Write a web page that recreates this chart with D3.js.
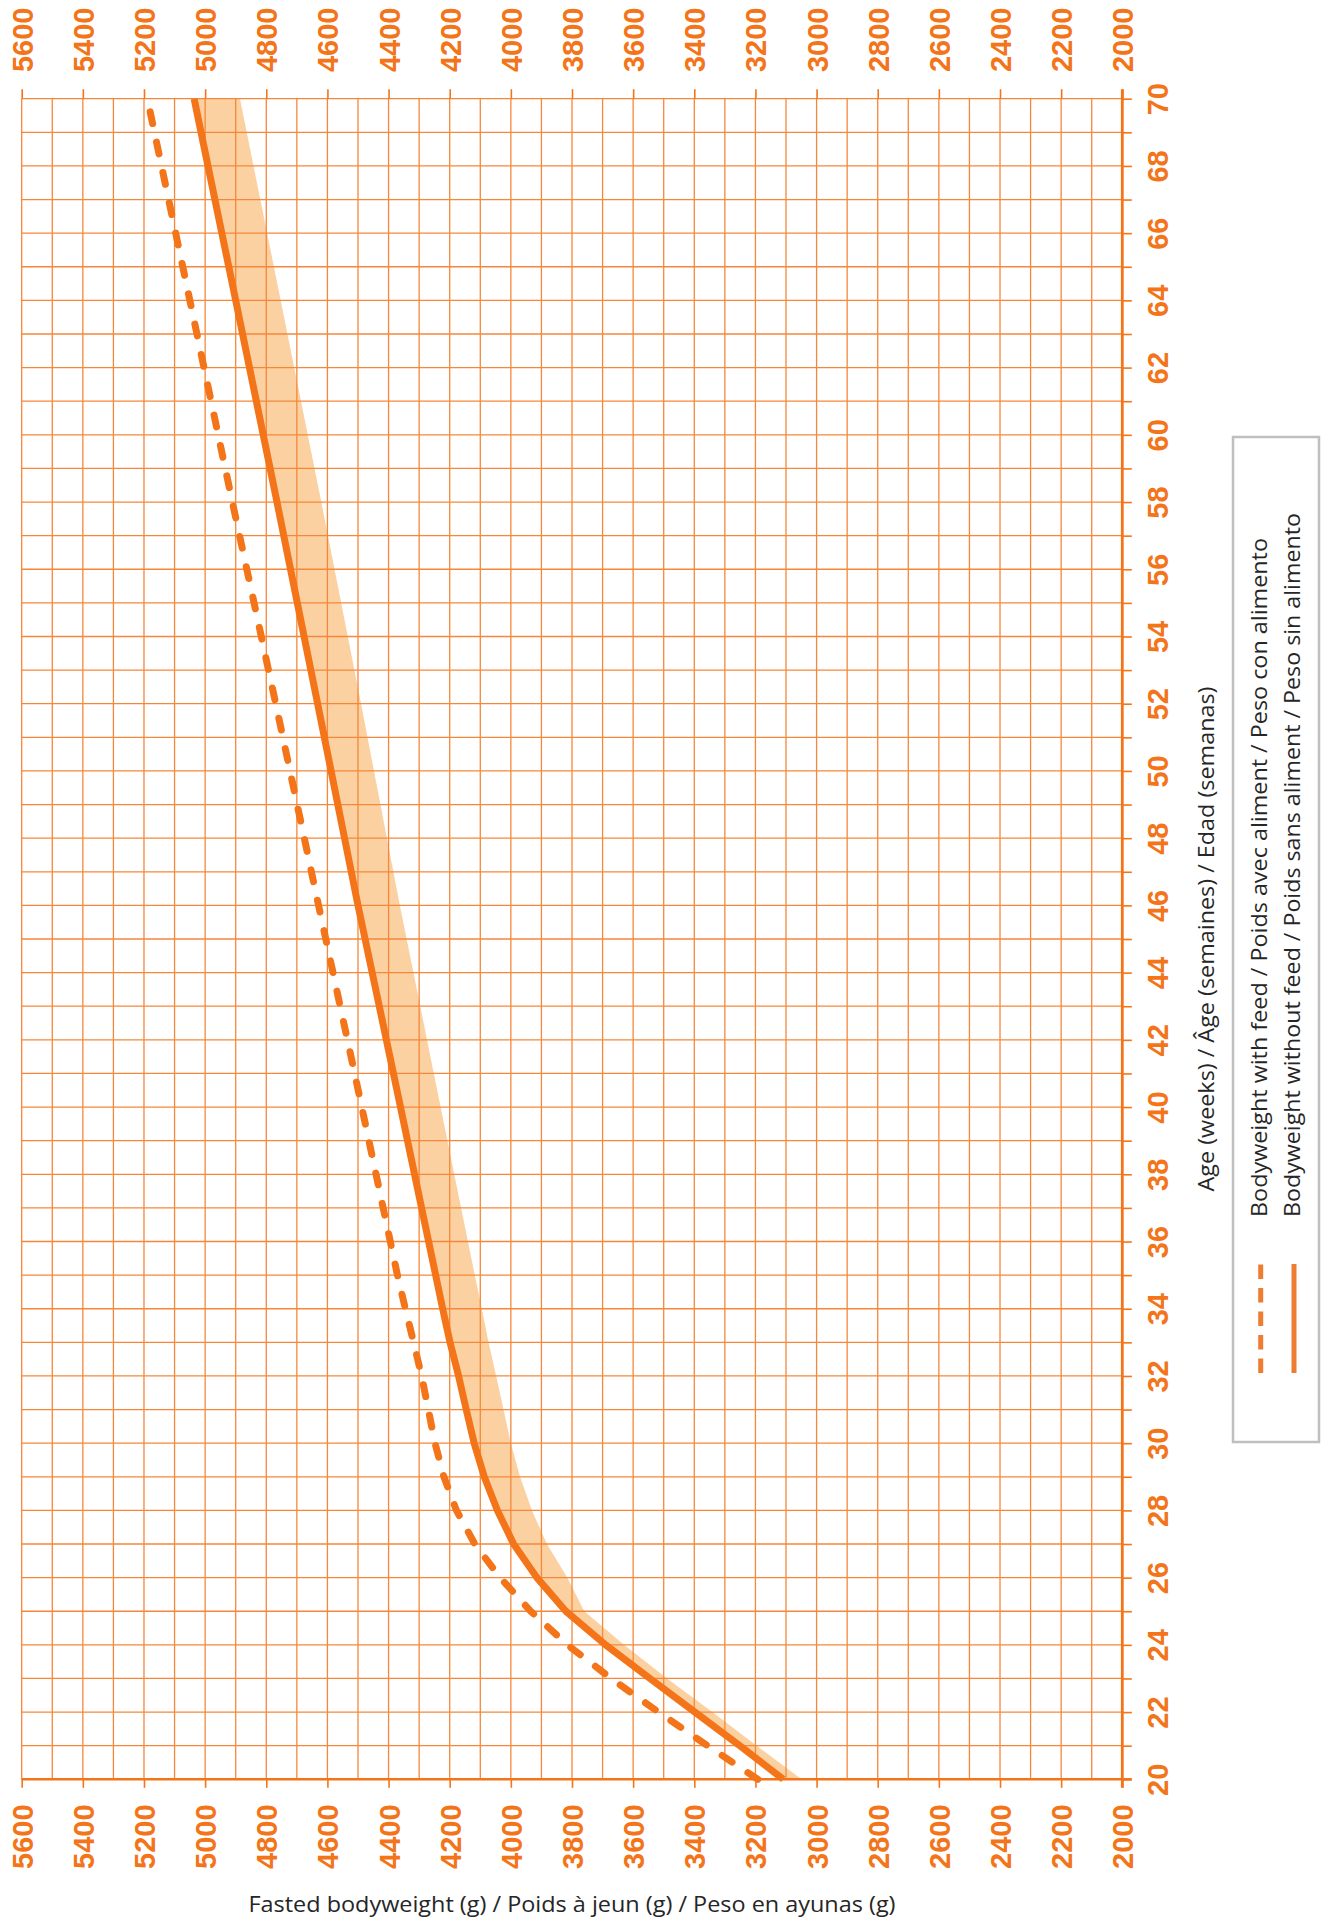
<!DOCTYPE html>
<html>
<head>
<meta charset="utf-8">
<script src="https://cdn.jsdelivr.net/npm/d3@7"></script>
<style>
  html, body { margin: 0; padding: 0; background: #fff; }
  svg { display: block; }
</style>
</head>
<body>
<svg id="chart"></svg>
<script>
// Fasted bodyweight vs age chart, drawn rotated like the printed guide.

const AGES = [20, 21, 22, 23, 24, 25, 26, 27, 28, 29, 30, 31, 32, 33, 34, 35, 41, 46, 52, 58, 64, 70];
const WITH_FEED = [3192, 3357, 3517, 3672, 3815, 3935, 4035, 4118, 4178, 4219, 4248, 4270, 4292, 4318, 4345, 4371, 4511, 4629, 4769, 4911, 5050, 5189];
const WITHOUT_FEED = [3109, 3251, 3398, 3545, 3690, 3820, 3915, 3991, 4044, 4087, 4120, 4146, 4171, 4199, 4223, 4246, 4384, 4500, 4632, 4765, 4900, 5036];
const RANGE_LOW = [3049, 3196, 3341, 3489, 3630, 3760, 3815, 3882, 3931, 3970, 4000, 4024, 4048, 4073, 4095, 4118, 4252, 4363, 4490, 4620, 4753, 4886];

const WEIGHT_LABELS = [5600, 5400, 5200, 5000, 4800, 4600, 4400, 4200, 4000, 3800, 3600, 3400, 3200, 3000, 2800, 2600, 2400, 2200, 2000];
const WEIGHT_GRID = [5600, 5500, 5400, 5300, 5200, 5100, 5000, 4900, 4800, 4700, 4600, 4500, 4400, 4300, 4200, 4100, 4000, 3900, 3800, 3700, 3600, 3500, 3400, 3300, 3200, 3100, 3000, 2900, 2800, 2700, 2600, 2500, 2400, 2300, 2200, 2100, 2000];
const AGE_LABELS = [20, 22, 24, 26, 28, 30, 32, 34, 36, 38, 40, 42, 44, 46, 48, 50, 52, 54, 56, 58, 60, 62, 64, 66, 68, 70];
const AGE_GRID = d3.range(20, 71);

const X_TITLE = "Fasted bodyweight (g) / Poids à jeun (g) / Peso en ayunas (g)";
const Y_TITLE = "Age (weeks) / Âge (semaines) / Edad (semanas)";
const LEGEND = [
  { label: "Bodyweight with feed / Poids avec aliment / Peso con alimento", dashed: true },
  { label: "Bodyweight without feed / Poids sans aliment / Peso sin alimento", dashed: false }
];

const W = 1329, H = 1921;
const ORANGE = "#f37419";
const GRID = "#f5873a";
const BAND = "#fbd1a1";
const TEXT = "#262626";
const LABEL_FONT = "'Liberation Sans', Arial, sans-serif";
const TEXT_FONT = "'Open Sans', 'Noto Sans', sans-serif";

const svg = d3.select("#chart").attr("width", W).attr("height", H);
svg.append("rect").attr("width", W).attr("height", H).attr("fill", "#fff");

const x = d3.scaleLinear().domain([5600, 2000]).range([21.7, 1122.3]);
const y = d3.scaleLinear().domain([20, 70]).range([1779.3, 98.7]);

const rows = AGES.map((a, i) => ({ age: a, feed: WITH_FEED[i], fasted: WITHOUT_FEED[i], low: RANGE_LOW[i] }));

// target range band
svg.append("path")
  .datum(rows)
  .attr("fill", BAND)
  .attr("d", d3.area()
    .y(d => y(d.age))
    .x0(d => x(d.fasted))
    .x1(d => x(d.low)));

// grid
const grid = svg.append("g").attr("stroke", GRID).attr("stroke-width", 1.3).attr("fill", "none");
grid.selectAll("line.v").data(WEIGHT_GRID).join("line")
  .attr("class", "v")
  .attr("x1", d => x(d)).attr("x2", d => x(d))
  .attr("y1", y(70)).attr("y2", y(20));
grid.selectAll("line.h").data(AGE_GRID).join("line")
  .attr("class", "h")
  .attr("x1", x(5600)).attr("x2", x(2000))
  .attr("y1", d => y(d)).attr("y2", d => y(d));

// curves
const line = key => d3.line().x(d => x(d[key])).y(d => y(d.age));

svg.append("path")
  .datum(rows)
  .attr("fill", "none")
  .attr("stroke", ORANGE)
  .attr("stroke-width", 7)
  .attr("stroke-linejoin", "round")
  .attr("d", line("fasted"));

svg.append("path")
  .datum(rows)
  .attr("fill", "none")
  .attr("stroke", ORANGE)
  .attr("stroke-width", 7)
  .attr("stroke-linecap", "round")
  .attr("stroke-dasharray", "12,19")
  .attr("d", line("feed"));

// axes
function styleAxis(g) {
  g.select(".domain").remove();
  g.selectAll(".tick line").attr("stroke", ORANGE).attr("stroke-width", 1.6);
  g.selectAll(".tick text")
    .attr("fill", ORANGE)
    .attr("font-family", LABEL_FONT)
    .attr("font-weight", "bold")
    .attr("font-size", 29)
    .attr("dy", null)
    .attr("transform", "rotate(-90)");
}

svg.append("g")
  .attr("transform", `translate(0,${y(70)})`)
  .call(d3.axisTop(x).tickValues(WEIGHT_LABELS).tickSize(9.5).tickFormat(d3.format("d")))
  .call(styleAxis)
  .call(g => g.selectAll(".tick text").attr("x", 26.7).attr("y", 10.5).attr("text-anchor", "start"));

svg.append("g")
  .attr("transform", `translate(0,${y(20)})`)
  .call(d3.axisBottom(x).tickValues(WEIGHT_LABELS).tickSize(8.5).tickFormat(d3.format("d")))
  .call(styleAxis)
  .call(g => g.selectAll(".tick text").attr("x", -89.7).attr("y", 10.5).attr("text-anchor", "start"));

svg.append("g")
  .attr("transform", `translate(${x(2000)},0)`)
  .call(d3.axisRight(y).tickValues(AGE_GRID).tickSize(9.5)
    .tickFormat(d => AGE_LABELS.includes(d) ? d : ""))
  .call(styleAxis)
  .call(g => g.selectAll(".tick text").attr("x", 0).attr("y", 45.7).attr("text-anchor", "middle"));

// heavier frame on bottom and right
svg.append("line")
  .attr("x1", x(5600)).attr("x2", x(2000) + 9.5)
  .attr("y1", y(20)).attr("y2", y(20))
  .attr("stroke", ORANGE).attr("stroke-width", 2.6);
svg.append("line")
  .attr("x1", x(2000)).attr("x2", x(2000))
  .attr("y1", y(70) - 9.5).attr("y2", y(20) + 8.5)
  .attr("stroke", ORANGE).attr("stroke-width", 2.8);

// axis titles
svg.append("text")
  .attr("x", (x(5600) + x(2000)) / 2)
  .attr("y", 1912)
  .attr("text-anchor", "middle")
  .attr("font-family", TEXT_FONT)
  .attr("font-size", 21)
  .attr("fill", TEXT)
  .attr("textLength", 647)
  .attr("lengthAdjust", "spacingAndGlyphs")
  .text(X_TITLE);

svg.append("text")
  .attr("transform", `translate(1214,${(y(20) + y(70)) / 2}) rotate(-90)`)
  .attr("text-anchor", "middle")
  .attr("font-family", TEXT_FONT)
  .attr("font-size", 21)
  .attr("fill", TEXT)
  .attr("textLength", 505)
  .attr("lengthAdjust", "spacingAndGlyphs")
  .text(Y_TITLE);

// legend
const legend = svg.append("g");
legend.append("rect")
  .attr("x", 1233).attr("y", 437)
  .attr("width", 86).attr("height", 1005)
  .attr("fill", "#fff")
  .attr("stroke", "#bfbfbf")
  .attr("stroke-width", 2.5);

const legendX = [1260.7, 1294];
const textBase = [1267, 1300];
const textLen = [679, 704];
LEGEND.forEach((item, i) => {
  legend.append("line")
    .attr("x1", legendX[i]).attr("x2", legendX[i])
    .attr("y1", 1373).attr("y2", 1264)
    .attr("stroke", "#ed7d31")
    .attr("stroke-width", 5)
    .attr("stroke-dasharray", item.dashed ? "14.5,9" : null);
  legend.append("text")
    .attr("transform", `translate(${textBase[i]},1217) rotate(-90)`)
    .attr("font-family", TEXT_FONT)
    .attr("font-size", 21)
    .attr("fill", TEXT)
    .attr("textLength", textLen[i])
    .attr("lengthAdjust", "spacingAndGlyphs")
    .text(item.label);
});
</script>
</body>
</html>
